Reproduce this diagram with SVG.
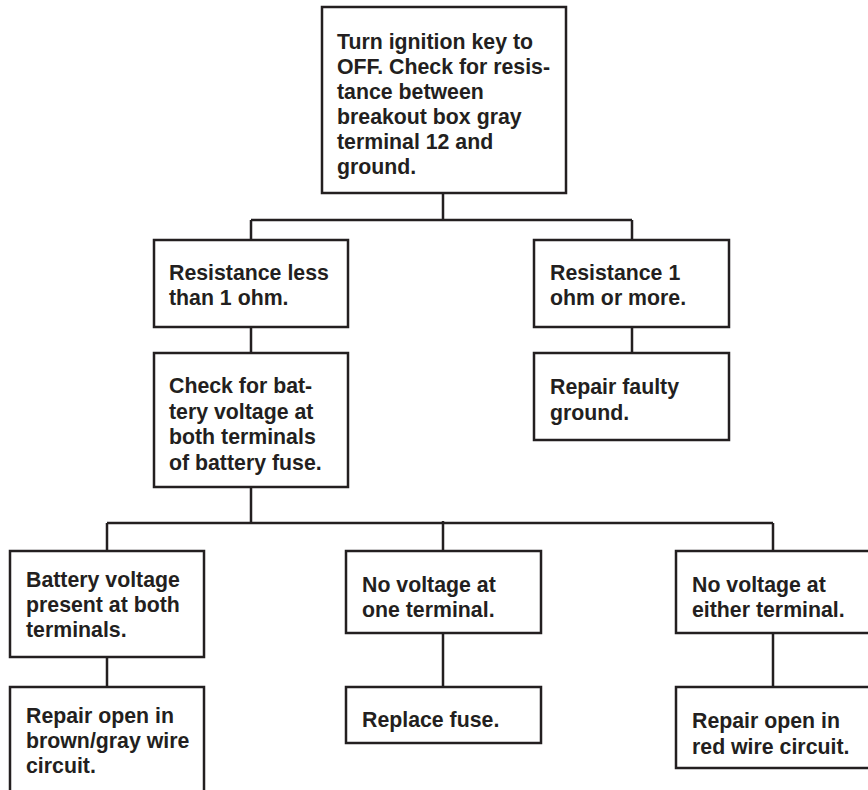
<svg xmlns="http://www.w3.org/2000/svg" width="868" height="790" viewBox="0 0 868 790">
  <style>
    .box { fill: #ffffff; stroke: #231f20; stroke-width: 2.5; }
    .wire { fill: none; stroke: #231f20; stroke-width: 2.5; }
    .lbl { font-family: "Liberation Sans", Arial, Helvetica, sans-serif; font-weight: bold; font-size: 21.3px; fill: #231f20; }
  </style>
  <rect width="868" height="790" fill="#ffffff"/>

  <!-- connectors -->
  <g id="connectors" class="wire">
    <path d="M443 193 V220 M251 220 H632 M251 220 V240 M632 220 V240"/>
    <path d="M251 327 V353 M632 327 V353"/>
    <path d="M251 487 V523 M107 523 H773 M107 523 V551 M443 521 V551 M773 523 V551"/>
    <path d="M107 657 V687 M443 633 V687 M773 633 V687"/>
  </g>

  <!-- start -->
  <g id="n-start">
    <rect class="box" x="322" y="7" width="244" height="186"/>
    <text class="lbl">
      <tspan x="337" y="49">Turn ignition key to</tspan>
      <tspan x="337" y="74">OFF. Check for resis-</tspan>
      <tspan x="337" y="99">tance between</tspan>
      <tspan x="337" y="124">breakout box gray</tspan>
      <tspan x="337" y="149">terminal 12 and</tspan>
      <tspan x="337" y="174">ground.</tspan>
    </text>
  </g>

  <g id="n-res-low">
    <rect class="box" x="154" y="240" width="194" height="87"/>
    <text class="lbl">
      <tspan x="169" y="280">Resistance less</tspan>
      <tspan x="169" y="305">than 1 ohm.</tspan>
    </text>
  </g>

  <g id="n-res-high">
    <rect class="box" x="534" y="240" width="195" height="87"/>
    <text class="lbl">
      <tspan x="550" y="280">Resistance 1</tspan>
      <tspan x="550" y="305">ohm or more.</tspan>
    </text>
  </g>

  <g id="n-check-fuse">
    <rect class="box" x="154" y="353" width="194" height="134"/>
    <text class="lbl">
      <tspan x="169" y="393">Check for bat-</tspan>
      <tspan x="169" y="419">tery voltage at</tspan>
      <tspan x="169" y="444">both terminals</tspan>
      <tspan x="169" y="470">of battery fuse.</tspan>
    </text>
  </g>

  <g id="n-repair-ground">
    <rect class="box" x="534" y="353" width="195" height="87"/>
    <text class="lbl">
      <tspan x="550" y="394">Repair faulty</tspan>
      <tspan x="550" y="420">ground.</tspan>
    </text>
  </g>

  <g id="n-both">
    <rect class="box" x="10" y="551" width="194" height="106"/>
    <text class="lbl">
      <tspan x="26" y="587">Battery voltage</tspan>
      <tspan x="26" y="612">present at both</tspan>
      <tspan x="26" y="637">terminals.</tspan>
    </text>
  </g>

  <g id="n-one">
    <rect class="box" x="346" y="551" width="195" height="82"/>
    <text class="lbl">
      <tspan x="362" y="592">No voltage at</tspan>
      <tspan x="362" y="617">one terminal.</tspan>
    </text>
  </g>

  <g id="n-either">
    <rect class="box" x="676" y="551" width="200" height="82"/>
    <text class="lbl">
      <tspan x="692" y="592">No voltage at</tspan>
      <tspan x="692" y="617">either terminal.</tspan>
    </text>
  </g>

  <g id="n-repair-brown">
    <rect class="box" x="10" y="687" width="194" height="110"/>
    <text class="lbl">
      <tspan x="26" y="723">Repair open in</tspan>
      <tspan x="26" y="748">brown/gray wire</tspan>
      <tspan x="26" y="773">circuit.</tspan>
    </text>
  </g>

  <g id="n-replace-fuse">
    <rect class="box" x="346" y="687" width="195" height="56"/>
    <text class="lbl">
      <tspan x="362" y="727">Replace fuse.</tspan>
    </text>
  </g>

  <g id="n-repair-red">
    <rect class="box" x="676" y="687" width="200" height="81"/>
    <text class="lbl">
      <tspan x="692" y="728">Repair open in</tspan>
      <tspan x="692" y="754">red wire circuit.</tspan>
    </text>
  </g>
</svg>
